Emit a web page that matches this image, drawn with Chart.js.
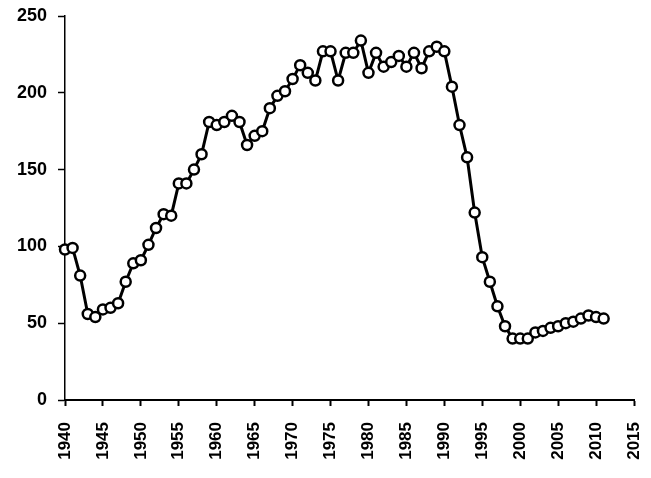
<!DOCTYPE html>
<html>
<head>
<meta charset="utf-8">
<script src="https://cdn.jsdelivr.net/npm/chart.js@4/dist/chart.umd.min.js"></script>
<style>
  html, body { margin: 0; padding: 0; background: #fff; }
  #wrap { width: 651px; height: 478px; }
</style>
</head>
<body>
<div id="wrap"><canvas id="graphCanvas" width="651" height="478"></canvas></div>
<script>
// years and values
var years = [];
for (var y = 1940; y <= 2011; y++) years.push(y);

var values = [
  98, 99, 81, 56, 54, 59, 60, 63, 77, 89,          // 1940-1949
  91, 101, 112, 121, 120, 141, 141, 150, 160, 181, // 1950-1959
  179, 181, 185, 181, 166, 172, 175, 190, 198, 201,// 1960-1969
  209, 218, 213, 208, 227, 227, 208, 226, 226, 234,// 1970-1979
  213, 226, 217, 220, 224, 217, 226, 216, 227, 230,// 1980-1989
  227, 204, 179, 158, 122, 93, 77, 61, 48, 40,     // 1990-1999
  40, 40, 44, 45, 47, 48, 50, 51, 53, 55,          // 2000-2009
  54, 53                                            // 2010-2011
];

var xTicks = [1940, 1945, 1950, 1955, 1960, 1965, 1970, 1975, 1980, 1985, 1990, 1995, 2000, 2005, 2010, 2015];
var yTicks = [0, 50, 100, 150, 200, 250];

var points = [];
for (var i in years) {
  points.push({x: years[i], y: values[i]});
}

var xFont = {family: "'Liberation Sans', Arial", size: 17, weight: 'bold'};
var yFont = {family: "'Liberation Sans', Arial", size: 18, weight: 'bold'};

var ctx = document.getElementById('graphCanvas');
var lineGraph = new Chart(ctx, {
  type: 'line',
  data: {
    datasets: [{
      data: points,
      borderColor: '#000',
      borderWidth: 3,
      pointRadius: 5,
      pointBorderWidth: 2.5,
      pointBackgroundColor: '#fff',
      pointBorderColor: '#000',
      tension: 0,
      clip: false
    }]
  },
  options: {
    responsive: false,
    animation: false,
    layout: {padding: {left: 0, top: 16, right: 17, bottom: 0}},
    plugins: {legend: {display: false}, tooltip: {enabled: false}},
    scales: {
      x: {
        type: 'linear',
        min: xTicks[0],
        max: xTicks[xTicks.length - 1],
        afterBuildTicks: function(scale) {
          scale.ticks = xTicks.map(function(v){ return {value: v}; });
        },
        afterFit: function(scale) {
          scale.height = 78;
          scale.paddingLeft = 0;
          scale.paddingRight = 0;
        },
        grid: {drawOnChartArea: false, tickLength: 6, tickColor: '#000', tickWidth: 2},
        border: {color: '#000', width: 2},
        ticks: {
          color: '#000', font: xFont, padding: 16,
          minRotation: 90, maxRotation: 90, autoSkip: false,
          callback: function(v){ return String(v); }
        }
      },
      y: {
        min: 0,
        max: 250,
        afterBuildTicks: function(scale) {
          scale.ticks = yTicks.map(function(v){ return {value: v}; });
        },
        afterFit: function(scale) {
          scale.width = 65;
          scale.paddingTop = 0;
          scale.paddingBottom = 0;
        },
        grid: {drawOnChartArea: false, tickLength: 7, tickColor: '#000', tickWidth: 1.5},
        border: {color: '#000', width: 1.5},
        ticks: {color: '#000', font: yFont, padding: 11}
      }
    }
  }
});
</script>
</body>
</html>
